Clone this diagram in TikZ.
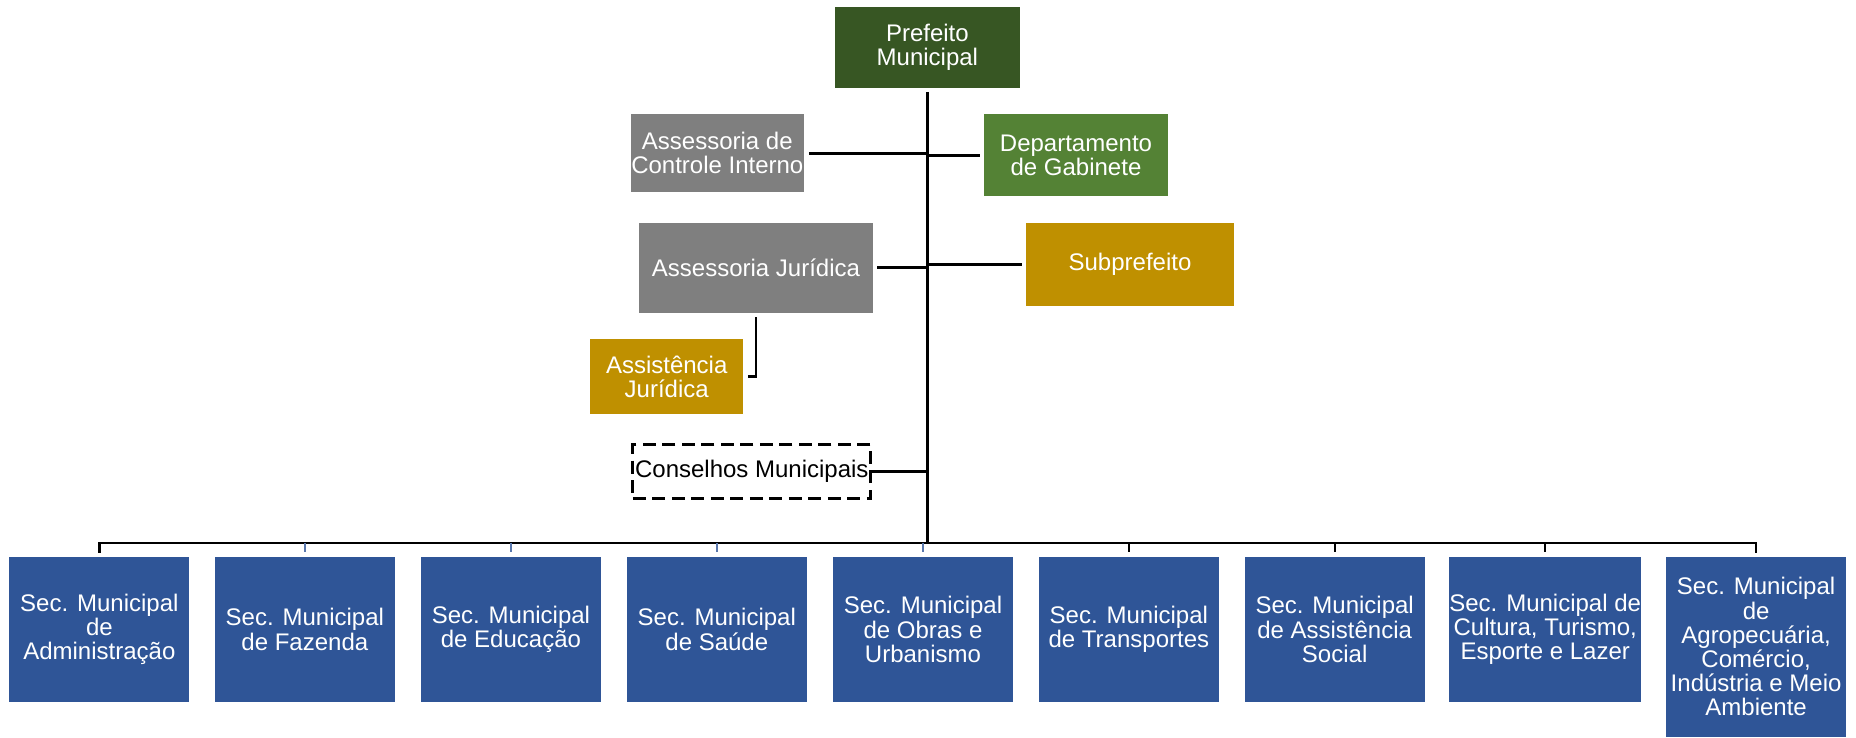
\documentclass[tikz,border=0pt]{standalone}
\usepackage{fontspec}
\setmainfont{Liberation Sans}
\definecolor{pgreen}{HTML}{375623}
\definecolor{ggreen}{HTML}{548235}
\definecolor{gold}{HTML}{BF9000}
\definecolor{grayb}{HTML}{7F7F7F}
\definecolor{blueb}{HTML}{2F5597}
\begin{document}
\begin{tikzpicture}[x=1pt,y=-1pt,
  box/.style={inner sep=0pt, align=center, text=white,
    font=\fontsize{24}{24.2}\selectfont},
  secbox/.style={box, fill=blueb, minimum width=180pt, minimum height=145.6pt},
  conn/.style={draw=black, line width=2.6pt},
  tickb/.style={draw=blueb!80!white, line width=1.6pt}]
\useasboundingbox (0,0) rectangle (1856,737);
% top
\node[box, fill=pgreen, minimum width=185.2pt, minimum height=80.4pt] (pm) at (927.4,47.5) {Prefeito\\Municipal};
\node[box, fill=grayb, minimum width=172.6pt, minimum height=78.3pt] (aci) at (717.3,153.2) {Assessoria de\\Controle Interno};
\node[box, fill=ggreen, minimum width=184pt, minimum height=82.3pt] (gab) at (1076,155.2) {Departamento\\de Gabinete};
\node[box, fill=grayb, minimum width=234.4pt, minimum height=90pt] (aj) at (756,267.7) {Assessoria Jurídica};
\node[box, fill=gold, minimum width=208pt, minimum height=83.3pt] (sub) at (1130,264.4) {Subprefeito};
\node[box, fill=gold, minimum width=152.7pt, minimum height=75.3pt] (asj) at (666.7,376.7) {Assistência\\Jurídica};
\node[box, text=black, draw=black, line width=3pt, dash pattern=on 13pt off 6.5pt,
  minimum width=238pt, minimum height=54pt] (con) at (751.8,471.5) {Conselhos Municipais};
% secretarias
\node[secbox] (s1) at (99.35,629.5) {Sec. Municipal\\de\\Administração};
\node[secbox] (s2) at (304.85,629.5) {Sec. Municipal\\de Fazenda};
\node[secbox] (s3) at (510.95,629.5) {Sec. Municipal\\de Educação};
\node[secbox] (s4) at (716.8,629.5) {Sec. Municipal\\de Saúde};
\node[secbox] (s5) at (923,629.5) {Sec. Municipal\\de Obras e\\Urbanismo};
\node[secbox] (s6) at (1128.85,629.5) {Sec. Municipal\\de Transportes};
\node[secbox] (s7) at (1334.65,629.5) {Sec. Municipal\\de Assistência\\Social};
\node[secbox, minimum width=188.6pt] (s8) at (1545.2,629.5) {Sec. Municipal de\\Cultura, Turismo,\\Esporte e Lazer};
\node[secbox, minimum height=180.3pt] (s9) at (1756.1,646.85) {Sec. Municipal\\de\\Agropecuária,\\Comércio,\\Indústria e Meio\\Ambiente};
\coordinate (bus) at (0,543);
% connectors
\draw[conn] ([yshift=-4pt]pm.south) -- (pm.south |- bus);
\draw[conn] ([xshift=5pt]aci.east) -- (aci.east -| pm.south);
\draw[conn] (pm.south |- gab.west) -- ([xshift=-4pt]gab.west);
\draw[conn] ([xshift=4pt]aj.east) -- (aj.east -| pm.south);
\draw[conn] (pm.south |- sub.west) -- ([xshift=-4pt]sub.west);
\draw[conn] ([yshift=-4.3pt]aj.south) |- ([xshift=4.7pt]asj.east);
\draw[conn] (con.east) -- (con.east -| pm.south);
\draw[conn, line cap=rect] ([yshift=4.7pt]s1.north) -- (s1.north |- bus) -- (s9.north |- bus) -- ([yshift=4.7pt]s9.north);
\foreach \i in {2,3,4,5} \draw[tickb] (s\i.north |- bus) -- ([yshift=4.7pt]s\i.north);
\foreach \i in {6,7,8} \draw[conn, line width=2pt] (s\i.north |- bus) -- ([yshift=4.7pt]s\i.north);
\end{tikzpicture}
\end{document}
